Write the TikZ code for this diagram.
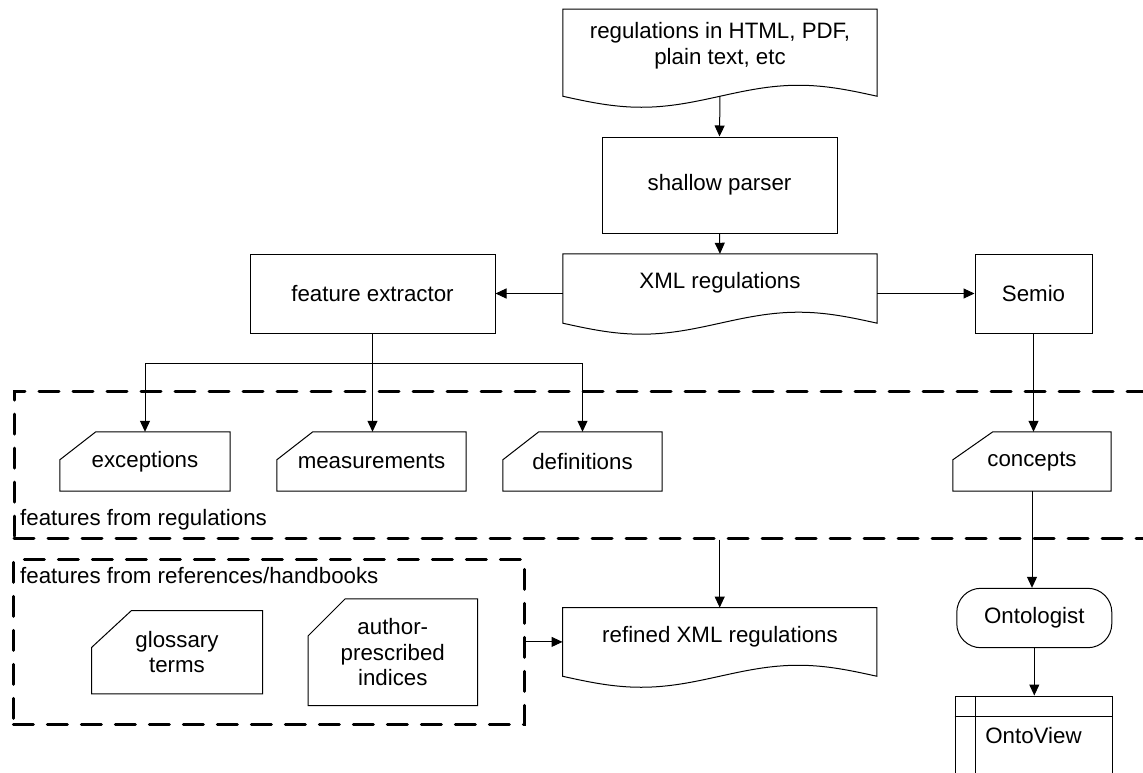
\documentclass[tikz,border=0pt]{standalone}
\usepackage{fontspec}
\setmainfont{Liberation Sans}
\usetikzlibrary{arrows.meta,calc}

% document outline: straight top and sides, one sine period along the bottom
\newcommand\docoutline[1]{%
  \draw[shapeline] (#1.south west) -- (#1.north west) -- (#1.north east) -- (#1.south east)
    sin ($(#1.south east)!0.25!(#1.south west)+(0pt,11pt)$)
    cos ($(#1.south east)!0.5!(#1.south west)$)
    sin ($(#1.south east)!0.75!(#1.south west)+(0pt,-11pt)$)
    cos (#1.south west) -- cycle;}
% card outline: rectangle with the top-left corner cut off
\newcommand\cardoutline[3]{%
  \draw[shapeline] ([xshift=#2]#1.north west) -- (#1.north east) -- (#1.south east)
    -- (#1.south west) -- ([yshift=-#3]#1.north west) -- cycle;}

\begin{document}
\begin{tikzpicture}[x=1pt,y=-1pt,
  font=\fontsize{22.3}{25.5}\selectfont,
  shapeline/.style={line width=1pt, line join=miter},
  shapebox/.style={inner sep=0pt, align=center},
  procbox/.style={shapebox, draw, shapeline},
  txt/.style={inner sep=0pt, align=center},
  grouplabel/.style={inner sep=0pt, anchor=west},
  groupbox/.style={draw, line width=3pt, line cap=round, dash pattern=on 20pt off 14pt, inner sep=0pt},
  arrow/.style={line width=1pt, -{Triangle[length=11pt,width=10pt]}}]

\useasboundingbox (0,0) rectangle (1143,772);

% source documents and parsing
\node[shapebox, minimum width=314pt, minimum height=86.7pt] (src) at (720,52.7) {};
\docoutline{src}
\node[txt] (srctext) at (720,45.5) {regulations in HTML, PDF,\\plain text, etc};

\node[procbox, minimum width=235pt, minimum height=96pt] (parser) at (719.5,185) {shallow parser};

\node[shapebox, minimum width=314pt, minimum height=69pt] (xml) at (720,288.5) {};
\docoutline{xml}
\node[txt] (xmltext) at (720,283) {XML regulations};

\node[procbox, minimum width=245pt, minimum height=79pt] (fe) at (372.5,293.5) {feature extractor};
\node[procbox, minimum width=117pt, minimum height=79pt] (semio) at (1033.5,293.5) {Semio};

% group of features taken from the regulations
\node[groupbox, minimum width=1156pt, minimum height=147pt] (regbox) at (592,464.5) {};
\node[grouplabel] (reglabel) at (20,520) {features from regulations};

\node[shapebox, minimum width=170pt, minimum height=59pt] (exc) at (145,461.5) {exceptions};
\cardoutline{exc}{36pt}{28pt}
\node[shapebox, minimum width=189pt, minimum height=59pt] (meas) at (371.5,461.5) {measurements};
\cardoutline{meas}{36pt}{28pt}
\node[shapebox, minimum width=159pt, minimum height=59pt] (defs) at (582.5,461.5) {definitions};
\cardoutline{defs}{36pt}{28pt}
\node[shapebox, minimum width=158pt, minimum height=59pt] (concepts) at (1032,461.5) {concepts};
\cardoutline{concepts}{40pt}{28pt}

% group of features taken from references and handbooks
\node[groupbox, minimum width=511pt, minimum height=165pt] (refbox) at (268.8,641.8) {};
\node[grouplabel] (reflabel) at (20,576) {features from references/handbooks};

\node[shapebox, minimum width=170.6pt, minimum height=83pt] (gloss) at (177,652.2) {glossary\\terms};
\cardoutline{gloss}{40pt}{37pt}
\node[shapebox, minimum width=169pt, minimum height=106.3pt] (author) at (392.8,652.2) {author-\\prescribed\\indices};
\cardoutline{author}{37pt}{37pt}

% refined output
\node[shapebox, minimum width=314pt, minimum height=68.3pt] (refined) at (719.7,641.9) {};
\docoutline{refined}
\node[txt] (refinedtext) at (720,637) {refined XML regulations};

% ontology side
\node[procbox, rounded corners=24pt, minimum width=155pt, minimum height=59.4pt] (onto) at (1034.3,618) {Ontologist};
\node[procbox, minimum width=157pt, minimum height=80pt] (ontoview) at (1033.5,736) {OntoView};
\draw[shapeline] ([yshift=-21pt]ontoview.north west) -- ([yshift=-21pt]ontoview.north east);
\draw[shapeline] ([xshift=21pt]ontoview.north west) -- ([xshift=21pt]ontoview.south west);

% connectors
\draw[arrow] (src.south) -- (parser.north);
\draw[arrow] (parser.south) -- (xml.north);
\draw[arrow] (xml.west |- fe.east) -- (fe.east);
\draw[arrow] (xml.east |- semio.west) -- (semio.west);
\draw[arrow] (fe.south) -- ++(0,30) -| (exc.north);
\draw[arrow] (fe.south) -- (fe.south |- meas.north);
\draw[arrow] (fe.south) -- ++(0,30) -| (defs.north);
\draw[arrow] (semio.south) -- (semio.south |- concepts.north);
\draw[arrow] (concepts.south) -- (concepts.south |- onto.north);
\draw[arrow] (onto.south) -- (onto.south |- ontoview.north);
\draw[arrow] (refined.north |- regbox.south) -- (refined.north);
\draw[arrow] (refbox.east |- refined.west) -- (refined.west);
\end{tikzpicture}
\end{document}
